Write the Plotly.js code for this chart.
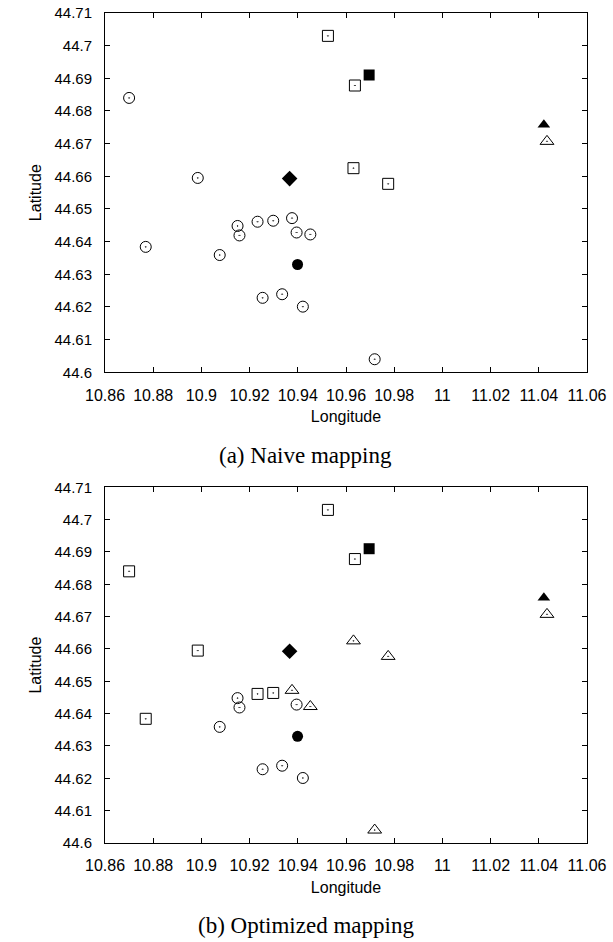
<!DOCTYPE html>
<html>
<head>
<meta charset="utf-8">
<script src="https://cdn.plot.ly/plotly-3.0.1.min.js"></script>
<style>html,body{margin:0;padding:0;background:#fff;}#chart{width:613px;height:942px;}</style>
</head>
<body>
<div id="chart"></div>
<script>
// Sensor nodes (longitude / latitude)
const lon = [10.9525, 10.9637, 10.8700, 10.9631, 10.9775, 10.8985, 10.9376, 10.9298, 10.9233, 10.9150,
             10.9158, 10.9395, 10.9452, 10.8769, 10.9076, 10.9254, 10.9335, 10.9421, 10.9719, 11.0434];
const lat = [44.7030, 44.6878, 44.6840, 44.6625, 44.6577, 44.6595, 44.6472, 44.6464, 44.6461, 44.6448,
             44.6419, 44.6428, 44.6422, 44.6384, 44.6359, 44.6228, 44.6239, 44.6201, 44.6040, 44.6707];
// Assignment of each node to a hub: S = square, T = triangle, C = circle
const naive     = ['S','S','C','S','S','C','C','C','C','C','C','C','C','C','C','C','C','C','C','T'];
const optimized = ['S','S','S','T','T','S','T','S','S','C','C','C','T','S','C','C','C','C','T','T'];
// Hubs
const hubNames = ['S', 'T', 'C', 'D'];
const hubLon = [10.9696, 11.0421, 10.9399, 10.9366];
const hubLat = [44.6910, 44.6758, 44.6330, 44.6593];

const xTicks = [10.86, 10.88, 10.9, 10.92, 10.94, 10.96, 10.98, 11, 11.02, 11.04, 11.06];
const yTicks = [44.6, 44.61, 44.62, 44.63, 44.64, 44.65, 44.66, 44.67, 44.68, 44.69, 44.7, 44.71];
const captions = ['(a) Naive mapping', '(b) Optimized mapping'];

const openSym = {S: 'square-open-dot', T: 'triangle-up-open-dot', C: 'circle-open-dot'};
const openSize = {S: 11, T: 12, C: 11};
const hubSym = {S: 'square', T: 'triangle-up', C: 'circle', D: 'diamond'};
const hubSize = {S: 11, T: 11, C: 11, D: 12};

const traces = [];
[naive, optimized].forEach((assign, k) => {
  const xa = k === 0 ? 'x' : 'x2';
  const ya = k === 0 ? 'y' : 'y2';
  ['S', 'T', 'C'].forEach(c => {
    const xs = [], ys = [];
    assign.forEach((a, i) => { if (a === c) { xs.push(lon[i]); ys.push(lat[i]); } });
    traces.push({
      type: 'scatter', mode: 'markers', x: xs, y: ys, xaxis: xa, yaxis: ya,
      showlegend: false, hoverinfo: 'x+y',
      marker: {symbol: openSym[c], size: openSize[c], color: '#000', line: {width: 1, color: '#000'}}
    });
  });
  hubNames.forEach((h, i) => {
    traces.push({
      type: 'scatter', mode: 'markers', x: [hubLon[i]], y: [hubLat[i]], xaxis: xa, yaxis: ya,
      showlegend: false, hoverinfo: 'x+y',
      marker: {symbol: hubSym[h], size: hubSize[h], color: '#000', line: {width: 0}}
    });
  });
});

const font = 'Liberation Sans, Arial, Helvetica, sans-serif';
function xAxis(anchor) {
  return {
    anchor: anchor, range: [10.86, 11.06], tickvals: xTicks, ticktext: xTicks.map(String),
    ticks: 'inside', ticklen: 5, tickwidth: 1, tickcolor: '#000',
    showline: true, linecolor: '#000', linewidth: 1, mirror: 'ticks',
    showgrid: false, zeroline: false, ticklabelstandoff: 8,
    tickfont: {family: font, size: 16, color: '#000'},
    title: {text: 'Longitude', font: {family: font, size: 16, color: '#000'}, standoff: 8}
  };
}
function yAxis(anchor, dom) {
  return {
    anchor: anchor, domain: dom, range: [44.6, 44.71], tickvals: yTicks, ticktext: yTicks.map(String),
    ticks: 'inside', ticklen: 5, tickwidth: 1, tickcolor: '#000',
    showline: true, linecolor: '#000', linewidth: 1, mirror: 'ticks',
    showgrid: false, zeroline: false, ticklabelstandoff: 9,
    tickfont: {family: font, size: 15, color: '#000'},
    title: {text: 'Latitude', font: {family: font, size: 16, color: '#000'}, standoff: 8}
  };
}

const layout = {
  width: 613, height: 942,
  margin: {l: 105, r: 26, t: 13, b: 99},
  paper_bgcolor: '#fff', plot_bgcolor: '#fff',
  showlegend: false,
  xaxis: xAxis('y'), yaxis: yAxis('x', [0.5671, 1]),
  xaxis2: xAxis('y2'), yaxis2: yAxis('x2', [0, 0.4286]),
  annotations: [
    {text: captions[0], xref: 'paper', yref: 'paper', x: 0.417, y: 0.4663, xanchor: 'center', yanchor: 'middle',
     showarrow: false, font: {family: 'Liberation Serif, Times New Roman, serif', size: 23, color: '#000'}},
    {text: captions[1], xref: 'paper', yref: 'paper', x: 0.417, y: -0.0988, xanchor: 'center', yanchor: 'middle',
     showarrow: false, font: {family: 'Liberation Serif, Times New Roman, serif', size: 23, color: '#000'}}
  ]
};

Plotly.newPlot('chart', traces, layout, {displayModeBar: false, staticPlot: true});
</script>
</body>
</html>
